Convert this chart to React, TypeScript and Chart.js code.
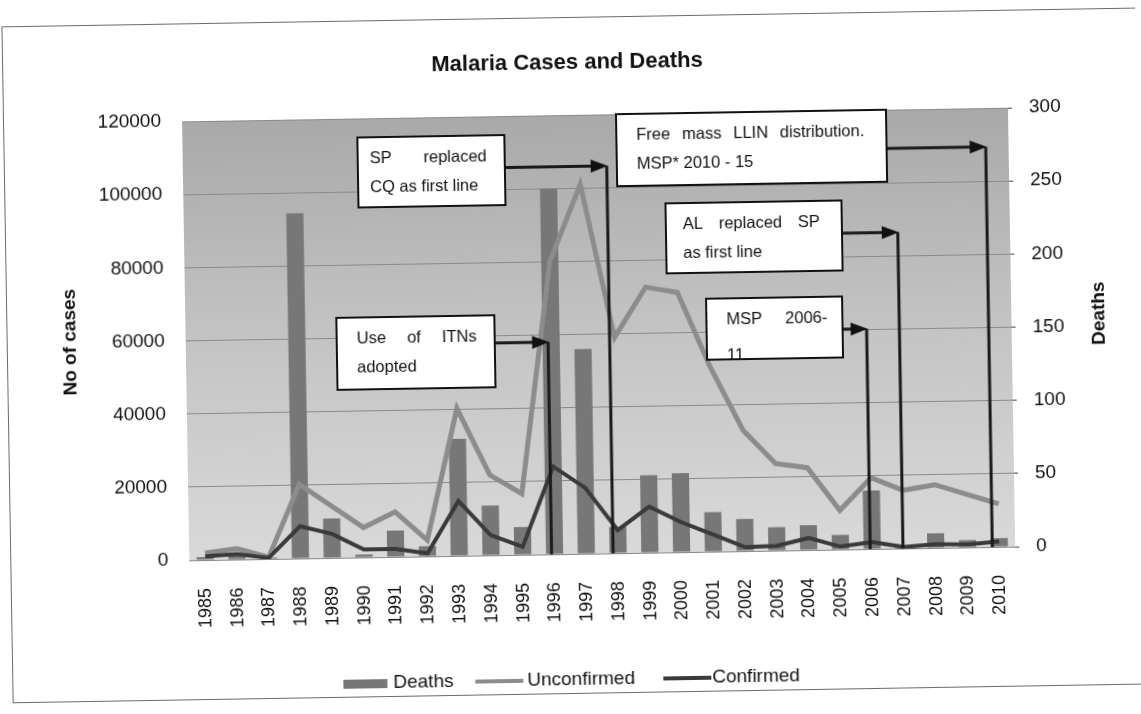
import React, { useEffect, useRef } from 'react';
import { Chart, registerables } from 'chart.js';

Chart.register(...registerables);

const years = ['1985', '1986', '1987', '1988', '1989', '1990', '1991', '1992', '1993', '1994', '1995', '1996', '1997', '1998', '1999', '2000', '2001', '2002', '2003', '2004', '2005', '2006', '2007', '2008', '2009', '2010'];
const deaths = [2, 3, 1, 236, 27, 2, 18, 7, 80, 34, 19, 250, 140, 18, 53, 54, 27, 22, 16, 17, 10, 40, 2, 10, 5, 6];
const unconfirmed = [1900, 3000, 500, 20300, 14200, 8200, 12300, 4400, 40300, 22000, 16700, 80000, 101000, 59000, 72600, 71000, 50400, 33000, 23800, 22500, 10700, 19500, 15900, 17300, 14500, 11800];
const confirmed = [1000, 1500, 300, 8800, 6600, 2200, 2200, 800, 15000, 5500, 2200, 24000, 18000, 6300, 12600, 8200, 4700, 1100, 1300, 3300, 800, 1900, 400, 1000, 800, 1500];
const leftTickStep = 20000;
const leftMax = 120000;
const rightTickStep = 50;
const rightMax = 300;

const FONT = '"Liberation Sans", Arial, Helvetica, sans-serif';

type Note = {
  lines: string[];
  justify: boolean[];
  box: [number, number, number, number];
  pad: [number, number];
  lineGap: number;
  arrowValue: number;
  year: string;
  dx: number;
};

const notes: Note[] = [
  { lines: ['Use of ITNs', 'adopted'], justify: [true, false], box: [337, 314, 495, 386], pad: [20, 18], lineGap: 29, arrowValue: 58000, year: '1996', dx: -3 },
  { lines: ['SP replaced', 'CQ as first line'], justify: [true, false], box: [361, 134, 508, 204], pad: [12, 18], lineGap: 29, arrowValue: 105900, year: '1998', dx: -5 },
  { lines: ['Free mass LLIN distribution.', 'MSP* 2010 - 15'], justify: [true, false], box: [620, 115, 890, 187], pad: [20, 22], lineGap: 29, arrowValue: 109400, year: '2010', dx: -7 },
  { lines: ['AL replaced SP', 'as first line'], justify: [true, false], box: [668, 205, 844, 275], pad: [17, 22], lineGap: 29, arrowValue: 86450, year: '2007', dx: -1 },
  { lines: ['MSP 2006-', '11'], justify: [true, false], box: [707, 301, 843, 362], pad: [20, 15], lineGap: 36, arrowValue: 60200, year: '2006', dx: -2 },
];

function drawJustified(ctx: CanvasRenderingContext2D, text: string, x1: number, x2: number, y: number, justify: boolean) {
  const words = text.split(' ');
  if (!justify || words.length < 2) {
    ctx.textAlign = 'left';
    ctx.fillText(text, x1, y);
    return;
  }
  const widths = words.map((w) => ctx.measureText(w).width);
  const total = widths.reduce((a, b) => a + b, 0);
  const gap = (x2 - x1 - total) / (words.length - 1);
  let x = x1;
  ctx.textAlign = 'left';
  words.forEach((w, i) => {
    ctx.fillText(w, x, y);
    x += widths[i] + gap;
  });
}

const decorPlugin = {
  id: 'decor',
  beforeDraw(chart: any) {
    const { ctx, chartArea } = chart;
    ctx.save();
    ctx.fillStyle = '#ffffff';
    ctx.fillRect(0, 0, chart.width, chart.height);
    ctx.strokeStyle = '#6a6a6a';
    ctx.lineWidth = 1;
    ctx.strokeRect(7.5, 17.5, 1160, 676);
    const g = ctx.createLinearGradient(0, chartArea.top, 0, chartArea.bottom);
    g.addColorStop(0, '#a9a9a9');
    g.addColorStop(0.5, '#c4c4c4');
    g.addColorStop(1, '#d9d9d9');
    ctx.fillStyle = g;
    ctx.fillRect(chartArea.left, chartArea.top, chartArea.right - chartArea.left, chartArea.bottom - chartArea.top);
    ctx.restore();
  },
  afterDatasetsDraw(chart: any) {
    const { ctx, chartArea } = chart;
    const xs = chart.scales.x;
    const ys = chart.scales.y;
    ctx.save();
    notes.forEach((n) => {
      const idx = years.indexOf(n.year);
      const tipX = xs.getPixelForValue(idx) + n.dx;
      const tipY = ys.getPixelForValue(n.arrowValue);
      const [bx1, by1, bx2, by2] = n.box;
      ctx.strokeStyle = '#1a1a1a';
      ctx.lineWidth = 3;
      ctx.beginPath();
      ctx.moveTo(tipX, tipY);
      ctx.lineTo(tipX, chartArea.bottom);
      ctx.stroke();
      ctx.beginPath();
      ctx.moveTo(bx2, tipY);
      ctx.lineTo(tipX - 12, tipY);
      ctx.stroke();
      ctx.fillStyle = '#111';
      ctx.beginPath();
      ctx.moveTo(tipX + 1, tipY);
      ctx.lineTo(tipX - 16, tipY - 6.5);
      ctx.lineTo(tipX - 16, tipY + 6.5);
      ctx.closePath();
      ctx.fill();
      ctx.fillStyle = '#ffffff';
      ctx.fillRect(bx1, by1, bx2 - bx1, by2 - by1);
      ctx.strokeStyle = '#111';
      ctx.lineWidth = 2;
      ctx.strokeRect(bx1, by1, bx2 - bx1, by2 - by1);
      ctx.save();
      ctx.beginPath();
      ctx.rect(bx1 + 1, by1 + 1, bx2 - bx1 - 2, by2 - by1 - 2);
      ctx.clip();
      ctx.fillStyle = '#111';
      ctx.font = `16.5px ${FONT}`;
      ctx.textBaseline = 'middle';
      n.lines.forEach((line, i) => {
        drawJustified(ctx, line, bx1 + n.pad[0], bx2 - n.pad[1], by1 + 21 + i * n.lineGap, n.justify[i]);
      });
      ctx.restore();
    });
    ctx.restore();
  },
  afterDraw(chart: any) {
    const { ctx } = chart;
    ctx.save();
    ctx.fillStyle = '#111';
    ctx.textBaseline = 'middle';
    ctx.font = `bold 22px ${FONT}`;
    ctx.textAlign = 'center';
    ctx.fillText('Malaria Cases and Deaths', 572, 63);
    ctx.font = `bold 19px ${FONT}`;
    ctx.save();
    ctx.translate(71, 334);
    ctx.rotate(-Math.PI / 2);
    ctx.fillText('No of cases', 0, 0);
    ctx.restore();
    ctx.save();
    ctx.translate(1100, 322);
    ctx.rotate(-Math.PI / 2);
    ctx.fillText('Deaths', 0, 0);
    ctx.restore();
    const ly = 680;
    ctx.font = `19px ${FONT}`;
    ctx.textAlign = 'left';
    ctx.fillStyle = '#777777';
    ctx.fillRect(338, ly - 4, 44, 9);
    ctx.fillStyle = '#111';
    ctx.fillText('Deaths', 388, ly);
    ctx.strokeStyle = '#8c8c8c';
    ctx.lineWidth = 4;
    ctx.beginPath();
    ctx.moveTo(470, ly);
    ctx.lineTo(518, ly);
    ctx.stroke();
    ctx.fillText('Unconfirmed', 522, ly);
    ctx.strokeStyle = '#3a3a3a';
    ctx.lineWidth = 4;
    ctx.beginPath();
    ctx.moveTo(658, ly);
    ctx.lineTo(706, ly);
    ctx.stroke();
    ctx.fillText('Confirmed', 707, ly);
    ctx.restore();
  },
};

export default function App() {
  const ref = useRef<HTMLCanvasElement | null>(null);
  useEffect(() => {
    if (!ref.current) return;
    const chart = new Chart(ref.current, {
      type: 'bar',
      data: {
        labels: years,
        datasets: [
          {
            type: 'bar',
            label: 'Deaths',
            data: deaths,
            yAxisID: 'y1',
            backgroundColor: '#777777',
            barPercentage: 0.54,
            categoryPercentage: 1,
            order: 3,
          } as any,
          {
            type: 'line',
            label: 'Unconfirmed',
            data: unconfirmed,
            yAxisID: 'y',
            borderColor: '#8c8c8c',
            borderWidth: 5,
            pointRadius: 0,
            tension: 0,
            order: 2,
          } as any,
          {
            type: 'line',
            label: 'Confirmed',
            data: confirmed,
            yAxisID: 'y',
            borderColor: '#3a3a3a',
            borderWidth: 4,
            pointRadius: 0,
            tension: 0,
            order: 1,
          } as any,
        ],
      },
      options: {
        animation: false,
        responsive: false,
        devicePixelRatio: 1,
        layout: { padding: { top: 115, left: 0, right: 0, bottom: 0 } },
        plugins: { legend: { display: false }, tooltip: { enabled: false }, title: { display: false } },
        scales: {
          x: {
            grid: { display: false },
            border: { display: false },
            ticks: { autoSkip: false, maxRotation: 90, minRotation: 90, padding: 20, color: '#111', font: { size: 18, family: FONT } },
            afterFit: (s: any) => { s.height = 714 - 554; },
          },
          y: {
            position: 'left',
            min: 0,
            max: leftMax,
            ticks: { stepSize: leftTickStep, padding: 21, color: '#111', font: { size: 19, family: FONT }, callback: (v: any) => String(v) },
            grid: { color: '#8a8a8a', drawTicks: false, lineWidth: 1 },
            border: { display: false },
            afterFit: (s: any) => { s.width = 186; },
          },
          y1: {
            position: 'right',
            min: 0,
            max: rightMax,
            ticks: { stepSize: rightTickStep, padding: 17, color: '#111', font: { size: 19, family: FONT }, callback: (v: any) => String(v) },
            grid: { drawOnChartArea: false, drawTicks: true, tickLength: 4, color: '#444' },
            border: { display: false },
            afterFit: (s: any) => { s.width = 1141 - 1012; },
          },
        },
      } as any,
      plugins: [decorPlugin],
    });
    return () => chart.destroy();
  }, []);
  return (
    <div style={{ position: 'absolute', left: 0, top: 0, width: 1141, height: 714, overflow: 'hidden', background: '#fff' }}>
      <canvas
        ref={ref}
        width={1141}
        height={714}
        style={{ width: 1141, height: 714, display: 'block', transform: 'rotate(-0.95deg)', transformOrigin: '570px 357px' }}
      />
    </div>
  );
}
